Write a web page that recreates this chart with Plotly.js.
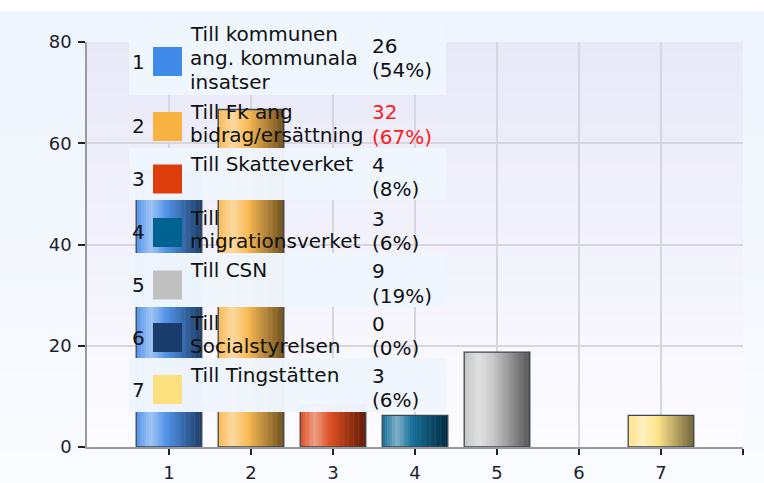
<!DOCTYPE html>
<html>
<head>
<meta charset="utf-8">
<script src="https://cdn.plot.ly/plotly-3.0.1.min.js"></script>
<style>html,body{margin:0;padding:0;background:#fff;}#chart{width:764px;height:483px;}</style>
</head>
<body>
<div id="chart"></div>
<script>
// ---- data ----
const categories = [1, 2, 3, 4, 5, 6, 7];
const tickLabels = ['1', '2', '3', '4', '5', '6', '7', ''];
const labelLines = [
  ['Till kommunen', 'ang. kommunala', 'insatser'],
  ['Till Fk ang', 'bidrag/ersättning'],
  ['Till Skatteverket'],
  ['Till', 'migrationsverket'],
  ['Till CSN'],
  ['Till', 'Socialstyrelsen'],
  ['Till Tingstätten']
];
const counts = [26, 32, 4, 3, 9, 0, 3];
const percents = [54.17, 66.67, 8.33, 6.25, 18.75, 0, 6.25];
const percentLabels = ['(54%)', '(67%)', '(8%)', '(6%)', '(19%)', '(0%)', '(6%)'];
const colors = ['#3f89e8', '#f9b342', '#dc3d0a', '#006290', '#c0c0c0', '#1a3c6c', '#fde07e'];

// ---- helpers ----
const L = 87, R = 743, T = 42, B = 447;
const W = 764, H = 483;
const px = v => (v - L) / (R - L);
const py = v => (B - v) / (B - T);
function hexToRgb(h) { h = h.replace('#', ''); return [0, 2, 4].map(i => parseInt(h.substr(i, 2), 16)); }
function mix(a, b, t) { return a.map((v, i) => v + (b[i] - v) * t); }
function rgb(a) { return 'rgb(' + a.map(v => Math.round(v)).join(',') + ')'; }
function grad(hex, t) {
  const c = hexToRgb(hex), w = [255, 255, 255], k = [0, 0, 0];
  const stops = [[0, mix(c, w, 0.08)], [0.22, mix(c, w, 0.5)], [0.45, mix(c, w, 0.1)], [1, mix(c, k, 0.56)]];
  for (let i = 0; i < stops.length - 1; i++) {
    const [t0, c0] = stops[i], [t1, c1] = stops[i + 1];
    if (t <= t1) return rgb(mix(c0, c1, (t - t0) / (t1 - t0)));
  }
  return rgb(stops[stops.length - 1][1]);
}

// ---- traces: gradient slices + outline ----
const N = 26, BW = 0.8;
const traces = [];
for (let i = 0; i < N; i++) {
  const t = (i + 0.5) / N;
  traces.push({
    type: 'bar', x: categories, y: percents,
    offset: -BW / 2 + i * BW / N,
    width: i === N - 1 ? BW / N : BW / N + 0.006,
    marker: { color: colors.map(c => grad(c, t)), line: { width: 0 } },
    hoverinfo: 'skip', showlegend: false
  });
}
traces.push({
  type: 'bar', x: categories, y: percents, width: BW, offset: -BW / 2,
  marker: { color: 'rgba(0,0,0,0)', line: { color: '#3c4654', width: percents.map(p => p > 0 ? 1.3 : 0) } },
  text: counts.map(String), hovertemplate: '%{x}: %{text} (%{y:.0f}%)<extra></extra>',
  textposition: 'none', showlegend: false
});

// ---- background shapes ----
const shapes = [];
shapes.push({ type: 'rect', xref: 'paper', yref: 'paper', layer: 'below', x0: px(0), x1: px(W), y0: py(11), y1: py(0),
  line: { width: 0 }, fillcolor: '#ffffff' });
const PB = 30;
for (let i = 0; i < PB; i++) {
  const y0 = 11 + (H - 11) * i / PB, y1 = 11 + (H - 11) * (i + 1) / PB + 0.5;
  shapes.push({ type: 'rect', xref: 'paper', yref: 'paper', layer: 'below',
    x0: px(0), x1: px(W), y0: py(Math.min(y1, H)), y1: py(y0), line: { width: 0 },
    fillcolor: rgb(mix([238, 245, 253], [249, 251, 254], i / (PB - 1))) });
}
const NB = 40;
for (let i = 0; i < NB; i++) {
  const y0 = T + (B - T) * i / NB, y1 = T + (B - T) * (i + 1) / NB + 0.5;
  shapes.push({ type: 'rect', xref: 'paper', yref: 'paper', layer: 'below',
    x0: 0, x1: 1, y0: py(Math.min(y1, B)), y1: py(y0), line: { width: 0 },
    fillcolor: rgb(mix([233, 232, 248], [252, 252, 255], i / (NB - 1))) });
}

// ---- legend table ----
const sqCenters = [61.5, 126.5, 179, 232.5, 285, 337.5, 389.5];
const rowBounds = [[18, 95], [95, 148], [148, 200], [200, 253], [253, 307], [307, 358], [358, 412]];
const annotations = [];
const maxIdx = counts.indexOf(Math.max(...counts));
const font = { family: 'DejaVu Sans, Verdana, sans-serif', size: 20, color: '#111' };
categories.forEach((c, i) => {
  const [r0, r1] = rowBounds[i];
  if (i % 2 === 0) {
    shapes.push({ type: 'rect', xref: 'paper', yref: 'paper', layer: 'above', x0: px(129), x1: px(446),
      y0: py(r1), y1: py(r0), line: { width: 0 }, fillcolor: 'rgba(240,246,254,0.98)' });
  }
  const sc = sqCenters[i];
  shapes.push({ type: 'rect', xref: 'paper', yref: 'paper', layer: 'above', x0: px(153), x1: px(182),
    y0: py(sc + 14.5), y1: py(sc - 14.5), line: { width: 0 }, fillcolor: colors[i] });
  annotations.push({ xref: 'paper', yref: 'paper', x: px(130), y: py(sc), xanchor: 'left', yanchor: 'middle',
    text: String(c), showarrow: false, font: font });
  const lines = labelLines[i];
  const start = sc - 15 - (lines.length > 2 ? (lines.length - 2) * 12 : 0);
  lines.forEach((ln, j) => {
    annotations.push({ xref: 'paper', yref: 'paper', x: px(188), y: py(start + j * 23.5), xanchor: 'left', yanchor: 'middle',
      text: ln, showarrow: false, font: font });
  });
  const vc = i === 0 ? sc - 4 : sc - 2;
  const vfont = Object.assign({}, font, { color: i === maxIdx ? '#ff1a1a' : '#111' });
  annotations.push({ xref: 'paper', yref: 'paper', x: px(370), y: py(vc - 12), xanchor: 'left', yanchor: 'middle',
    text: String(counts[i]), showarrow: false, font: vfont });
  annotations.push({ xref: 'paper', yref: 'paper', x: px(370), y: py(vc + 12.5), xanchor: 'left', yanchor: 'middle',
    text: percentLabels[i], showarrow: false, font: vfont });
});

const tickFont = { family: 'DejaVu Sans, Verdana, sans-serif', size: 18, color: '#22222e' };
const layout = {
  width: W, height: H,
  margin: { l: L, r: W - R, t: T, b: H - B, pad: 0 },
  paper_bgcolor: '#eff6fd', plot_bgcolor: 'rgba(0,0,0,0)',
  barmode: 'overlay',
  showlegend: false,
  xaxis: {
    range: [0, 8], tickvals: [1, 2, 3, 4, 5, 6, 7, 8], ticktext: tickLabels,
    ticks: 'outside', ticklen: 6, tickwidth: 1.5, tickcolor: '#222',
    showgrid: true, gridcolor: '#d6d6de', gridwidth: 1.5,
    showline: true, linecolor: '#9a9a9a', linewidth: 1.5, zeroline: false,
    tickfont: tickFont, automargin: false, fixedrange: true, ticklabelstandoff: 3
  },
  yaxis: {
    range: [0, 80], tickvals: [0, 20, 40, 60, 80],
    ticks: 'outside', ticklen: 7, tickwidth: 1.5, tickcolor: '#222',
    showgrid: true, gridcolor: '#d6d6de', gridwidth: 1.5,
    showline: true, linecolor: '#9a9a9a', linewidth: 1.5, zeroline: false,
    tickfont: tickFont, automargin: false, fixedrange: true, ticklabelstandoff: 3
  },
  shapes: shapes,
  annotations: annotations
};
Plotly.newPlot('chart', traces, layout, { displayModeBar: false });
</script>
</body>
</html>
